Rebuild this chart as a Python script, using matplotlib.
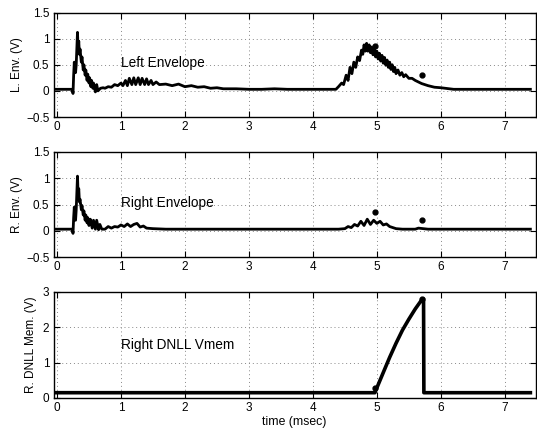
import matplotlib
matplotlib.use("Agg")
import matplotlib.pyplot as plt

plt.rcParams['font.family'] = ['Liberation Sans', 'DejaVu Sans']
plt.rcParams['axes.unicode_minus'] = True

# ---------------- data ----------------
left_t = [-0.02, 0.05, 0.1, 0.15, 0.2, 0.24, 0.25, 0.26, 0.27, 0.28, 0.29, 0.30, 0.32, 0.33, 0.34, 0.35,
          0.36, 0.38, 0.39, 0.41, 0.42, 0.44, 0.45, 0.47, 0.48, 0.50, 0.51, 0.53, 0.54, 0.56, 0.57,
          0.60, 0.62, 0.64, 0.68, 0.72, 0.75, 0.8, 0.85, 0.9, 0.95, 1.0, 1.03, 1.07, 1.1, 1.13, 1.17,
          1.2, 1.23, 1.27, 1.3, 1.33, 1.37, 1.4, 1.43, 1.47, 1.5, 1.55, 1.6, 1.7, 1.8, 1.9, 2.0,
          2.1, 2.2, 2.3, 2.4, 2.5, 2.6, 2.8, 3.0, 3.2, 3.4, 3.6, 3.8, 4.0, 4.2, 4.36, 4.4, 4.45,
          4.48, 4.52, 4.55, 4.58, 4.61, 4.64, 4.67, 4.70, 4.73, 4.76, 4.78, 4.80, 4.82, 4.84, 4.86,
          4.88, 4.90, 4.92, 4.94, 4.96, 4.98, 5.00, 5.02, 5.04, 5.06, 5.08, 5.10, 5.12, 5.14, 5.16,
          5.18, 5.20, 5.22, 5.24, 5.26, 5.28, 5.30, 5.33, 5.36, 5.39, 5.42, 5.45, 5.5, 5.55, 5.6,
          5.65, 5.7, 5.8, 5.9, 6.0, 6.2, 6.4, 6.6, 6.8, 7.0, 7.2, 7.4]
left_v = [0.03, 0.03, 0.03, 0.03, 0.03, 0.03, -0.05, 0.30, 0.55, 0.40, 0.35, 0.50, 1.12, 0.80, 0.95, 0.70,
          0.80, 0.55, 0.65, 0.40, 0.50, 0.30, 0.40, 0.20, 0.32, 0.15, 0.25, 0.08, 0.20, 0.05, 0.15,
          -0.02, 0.12, 0.00, 0.05, 0.06, 0.05, 0.08, 0.07, 0.12, 0.10, 0.15, 0.10, 0.20, 0.10, 0.24, 0.12,
          0.25, 0.12, 0.25, 0.12, 0.24, 0.12, 0.23, 0.12, 0.20, 0.12, 0.17, 0.12, 0.13, 0.10, 0.13, 0.08,
          0.10, 0.07, 0.08, 0.05, 0.06, 0.04, 0.04, 0.03, 0.03, 0.04, 0.03, 0.03, 0.03, 0.03, 0.03, 0.08, 0.15,
          0.12, 0.30, 0.20, 0.45, 0.33, 0.55, 0.45, 0.65, 0.58, 0.78, 0.70, 0.88, 0.76, 0.91, 0.76,
          0.88, 0.73, 0.84, 0.69, 0.80, 0.65, 0.76, 0.61, 0.72, 0.57, 0.68, 0.53, 0.64, 0.49, 0.59,
          0.45, 0.55, 0.41, 0.50, 0.37, 0.45, 0.33, 0.40, 0.30, 0.35, 0.27, 0.31, 0.24, 0.24, 0.20,
          0.17, 0.14, 0.10, 0.07, 0.06, 0.03, 0.03, 0.03, 0.03, 0.03, 0.03, 0.03]

right_t = [-0.02, 0.05, 0.1, 0.15, 0.2, 0.24, 0.25, 0.26, 0.27, 0.28, 0.29, 0.30, 0.32, 0.33, 0.34, 0.35,
           0.36, 0.38, 0.39, 0.41, 0.42, 0.44, 0.45, 0.47, 0.48, 0.50, 0.52, 0.55, 0.57, 0.60, 0.62,
           0.65, 0.67, 0.70, 0.75, 0.8, 0.85, 0.9, 0.95, 1.0, 1.05, 1.1, 1.15, 1.2, 1.25, 1.3, 1.35,
           1.4, 1.5, 1.7, 2.0, 2.5, 3.0, 3.5, 4.0, 4.4, 4.5, 4.55, 4.6, 4.65, 4.7, 4.75, 4.8, 4.85,
           4.9, 4.95, 5.0, 5.05, 5.1, 5.15, 5.2, 5.3, 5.4, 5.6, 5.65, 5.8, 6.0, 6.5, 7.0, 7.4]
right_v = [0.03, 0.03, 0.03, 0.03, 0.03, 0.03, -0.05, 0.25, 0.45, 0.25, 0.20, 0.40, 1.04, 0.70, 0.80, 0.55,
           0.60, 0.40, 0.48, 0.30, 0.38, 0.20, 0.30, 0.15, 0.25, 0.10, 0.22, 0.05, 0.20, 0.03, 0.20,
           0.02, 0.12, 0.03, 0.03, 0.08, 0.05, 0.08, 0.07, 0.11, 0.08, 0.13, 0.08, 0.12, 0.14, 0.07, 0.09,
           0.05, 0.04, 0.03, 0.03, 0.03, 0.03, 0.03, 0.03, 0.03, 0.04, 0.08, 0.06, 0.12, 0.09, 0.18, 0.10, 0.22,
           0.12, 0.20, 0.14, 0.18, 0.11, 0.13, 0.08, 0.04, 0.03, 0.03, 0.05, 0.03, 0.03, 0.03, 0.03, 0.03]

vmem_t = [-0.02, 1.0, 2.0, 3.0, 4.0, 4.97, 4.98, 5.1, 5.2, 5.3, 5.4, 5.5, 5.6, 5.71, 5.73, 5.735, 6.5, 7.4]
vmem_v = [0.15, 0.15, 0.15, 0.15, 0.15, 0.15, 0.20, 0.72, 1.15, 1.55, 1.92, 2.23, 2.52, 2.80, 2.80, 0.15, 0.15, 0.15]

left_dot_t = [4.97, 5.71]
left_dot_v = [0.86, 0.31]
right_dot_t = [4.97, 5.71]
right_dot_v = [0.36, 0.20]
vmem_dot_t = [4.97, 5.71]
vmem_dot_v = [0.29, 2.79]

xticks = [0, 1, 2, 3, 4, 5, 6, 7]
env_yticks = [-0.5, 0, 0.5, 1, 1.5]
env_yticklabels = ['\u22120.5', '0', '0.5', '1', '1.5']
vmem_yticks = [0, 1, 2, 3]

# ---------------- figure ----------------
fig = plt.figure(figsize=(5.37, 4.28), dpi=100)
W, H = 537.0, 428.0
left = 53.5 / W
width = (535.5 - 53.5) / W

def mk_ax(top_px, bot_px):
    return fig.add_axes([left, 1 - bot_px / H, width, (bot_px - top_px) / H])

ax1 = mk_ax(12.5, 117)
ax2 = mk_ax(152, 257)
ax3 = mk_ax(292, 398)

def style(ax, yticks, ylim, ylabels=None):
    ax.set_xlim(-0.055, 7.48)
    ax.set_ylim(*ylim)
    ax.set_xticks(xticks)
    ax.set_yticks(yticks)
    if ylabels is not None:
        ax.set_yticklabels(ylabels)
    ax.tick_params(direction='in', top=True, right=True, length=4, width=0.8,
                   labelsize=8.5, pad=3)
    ax.grid(True, color='#888888', linestyle=(0, (1, 3)), linewidth=0.7)
    for s in ax.spines.values():
        s.set_linewidth(1.0)

ax1.plot(left_t, left_v, color='black', lw=2.0)
ax1.plot(left_dot_t, left_dot_v, 'o', color='black', ms=3.5)
style(ax1, env_yticks, (-0.5, 1.5), env_yticklabels)
ax1.set_ylabel('L. Env. (V)', fontsize=8.5, labelpad=2)
ax1.text(1.0, 0.45, 'Left Envelope', fontsize=9.8)

ax2.plot(right_t, right_v, color='black', lw=2.0)
ax2.plot(right_dot_t, right_dot_v, 'o', color='black', ms=3.5)
style(ax2, env_yticks, (-0.5, 1.5), env_yticklabels)
ax2.set_ylabel('R. Env. (V)', fontsize=8.5, labelpad=2)
ax2.text(1.0, 0.45, 'Right Envelope', fontsize=9.8)

ax3.plot(vmem_t, vmem_v, color='black', lw=2.6)
ax3.plot(vmem_dot_t, vmem_dot_v, 'o', color='black', ms=3.5)
style(ax3, vmem_yticks, (0, 3))
ax3.set_ylabel('R. DNLL Mem. (V)', fontsize=8.5, labelpad=4)
ax3.text(1.0, 1.4, 'Right DNLL Vmem', fontsize=9.8)
ax3.set_xlabel('time (msec)', fontsize=8.8, labelpad=1)

fig.savefig('out.png', dpi=100)
